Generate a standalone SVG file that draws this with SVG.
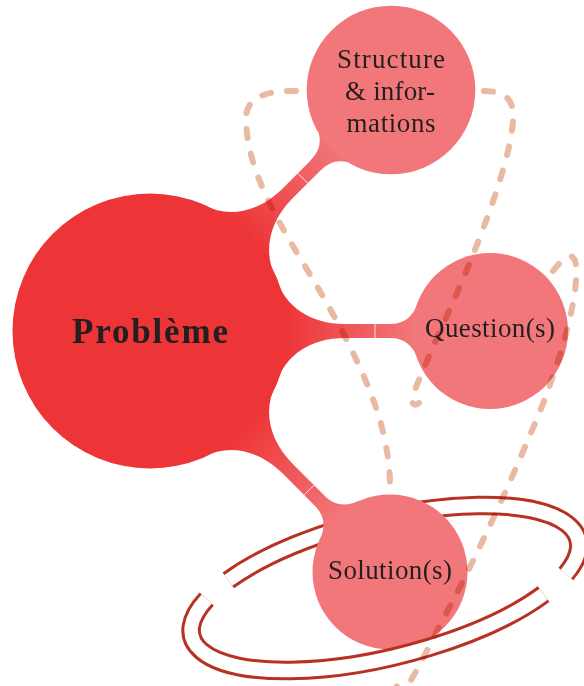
<svg xmlns="http://www.w3.org/2000/svg" width="584" height="686" viewBox="0 0 584 686">
  <style>
    .parent { fill: #ED3537; }
    .child { fill: #F2777A; }
    .bar { fill: url(#barGrad); }
    .seam { stroke: #ffffff; stroke-width: 0.9; stroke-opacity: 0.9; }
    .ringOuter { fill: none; stroke: #B83224; stroke-width: 19.5; stroke-linecap: butt; }
    .ringInner { fill: none; stroke: #ffffff; stroke-width: 13.5; stroke-linecap: butt; }
    .dash { fill: none; stroke: #E9BAA2; stroke-width: 6; stroke-linecap: round; stroke-linejoin: round; stroke-dasharray: 9 16; mix-blend-mode: multiply; }
    .lbl { font-family: "Liberation Serif", "DejaVu Serif", serif; font-size: 27px; fill: #231F20; text-anchor: middle; }
    .main { font-family: "Liberation Serif", "DejaVu Serif", serif; font-size: 35px; font-weight: bold; fill: #231F20; text-anchor: middle; }
  </style>
  <defs>
    <linearGradient id="barGrad" gradientUnits="userSpaceOnUse" x1="135" y1="0" x2="265" y2="0">
      <stop offset="0" stop-color="#ED3537"/>
      <stop offset="1" stop-color="#F2777A"/>
    </linearGradient>
  </defs>

  <!-- ring, back half -->
  <g id="ring-back" transform="rotate(-14 385 588)">
    <path class="ringOuter" d="M 563.9,618.2 A 199 69 0 0 0 234.8,542.7"/>
    <path class="ringInner" d="M 563.9,618.2 A 199 69 0 0 0 234.8,542.7"/>
  </g>

  <!-- mindmap connection bars -->
  <g id="connectors">
    <g transform="translate(150,331) rotate(-45)">
      <path class="bar" d="M 100,-60 L 127,-51 C 135,-25 160,-7 195,-7 L 232,-7 C 246,-7 253,-11 259,-20 L 290,-20 L 290,20 L 259,20 C 253,11 246,7 232,7 L 195,7 C 160,7 135,25 127,51 L 100,60 Z"/>
      <line class="seam" x1="216" y1="-7" x2="216" y2="7"/>
    </g>
    <g transform="translate(150,331)">
      <path class="bar" d="M 100,-60 L 127,-51 C 135,-25 160,-7 195,-7 L 240,-7 C 255,-7 263,-15 268,-28 L 290,-20 L 290,20 L 268,28 C 263,15 255,7 240,7 L 195,7 C 160,7 135,25 127,51 L 100,60 Z"/>
      <line class="seam" x1="225" y1="-7" x2="225" y2="7"/>
    </g>
    <g transform="translate(150,331) rotate(45)">
      <path class="bar" d="M 100,-60 L 127,-51 C 135,-25 160,-7 195,-7 L 240,-7 C 255,-7 263,-15 268,-28 L 290,-20 L 290,20 L 268,28 C 263,15 255,7 240,7 L 195,7 C 160,7 135,25 127,51 L 100,60 Z"/>
      <line class="seam" x1="225" y1="-7" x2="225" y2="7"/>
    </g>
  </g>

  <g id="probleme">
    <circle class="parent" cx="150" cy="331" r="137.5"/>
  </g>
  <g id="structure">
    <circle class="child" cx="391" cy="90" r="84.3"/>
  </g>
  <g id="question">
    <circle class="child" cx="490" cy="331" r="78"/>
  </g>
  <g id="solution">
    <circle class="child" cx="390" cy="572" r="77.5"/>
  </g>

  <!-- ring, front half -->
  <g id="ring-front" transform="rotate(-14 385 588)">
    <path class="ringOuter" d="M 537.4,632.4 A 199 69 0 0 1 209.3,555.6"/>
    <path class="ringInner" d="M 537.4,632.4 A 199 69 0 0 1 209.3,555.6"/>
  </g>

  <!-- dashed curves -->
  <g id="dashed-links">
    <path class="dash" d="M 296,91 C 262,90 245,100 246,120 C 247,160 265,200 300,258 C 335,315 365,370 380,420 C 388,450 390,470 390,487"/>
    <path class="dash" d="M 484,91 C 515,91 515,110 512,130 C 505,180 470,265 445,320 C 425,365 412,395 412,400 C 412,405 416,406 419,403"/>
    <path class="dash" d="M 553,271 C 560,262 566,256 570,256 C 578,257 577,275 575,290 C 570,330 550,390 530,435 C 505,495 470,570 440,625 C 425,655 412,680 403,693 C 398,690 394,682 390,673"/>
  </g>

  <!-- labels -->
  <g id="labels">
    <text class="main" x="150" y="343" textLength="156">Problème</text>
    <text class="lbl" x="391" y="68" textLength="108">Structure</text>
    <text class="lbl" x="390" y="100" textLength="90">&amp; infor-</text>
    <text class="lbl" x="391" y="132" textLength="89">mations</text>
    <text class="lbl" x="490" y="337" textLength="130">Question(s)</text>
    <text class="lbl" x="390" y="579" textLength="124">Solution(s)</text>
  </g>
</svg>
